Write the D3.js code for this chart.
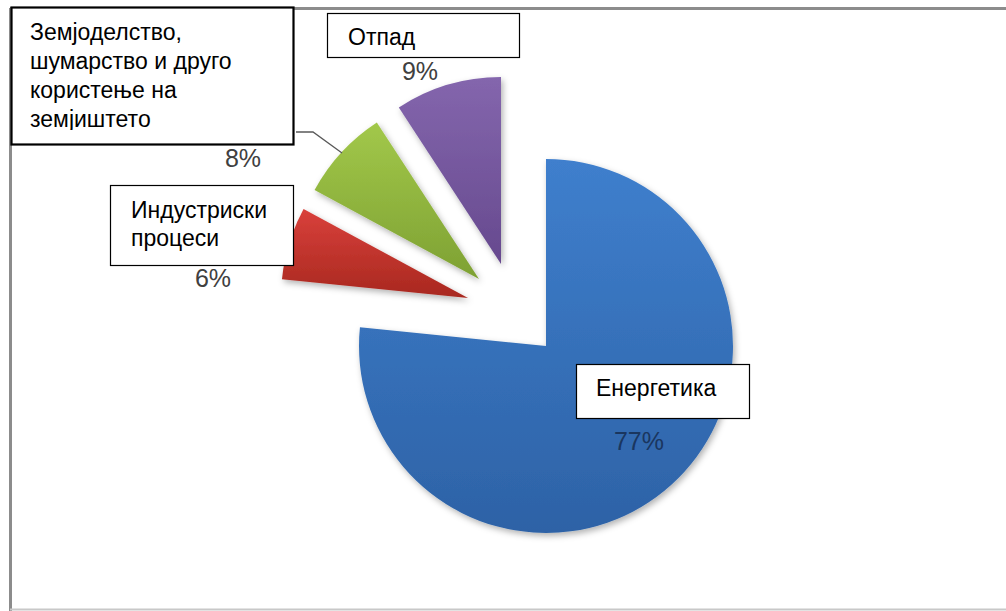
<!DOCTYPE html>
<html><head><meta charset="utf-8">
<script src="https://cdn.jsdelivr.net/npm/d3@7"></script>
<style>body{margin:0;background:#fff} svg{display:block}</style>
</head><body>
<svg id="c" width="1006" height="611"></svg>
<script>
// ---- data ----
const categories = ["Енергетика", "Индустриски процеси", "Земјоделство, шумарство и друго користење на земјиштето", "Отпад"];
const values = [76.6, 6.3, 7.9, 9.2];
const labelLines = [
  ["Енергетика"],
  ["Индустриски", "процеси"],
  ["Земјоделство,", "шумарство и друго", "користење на", "земјиштето"],
  ["Отпад"]
];

// ---- style / layout ----
const W = 1006, H = 611;
const center = [546, 346], radius = 187;
const gradColors = [["#3f7fcd", "#2d62a6"], ["#d9403b", "#a8281f"], ["#a2c84a", "#7ea133"], ["#8466ad", "#66498e"]];
const explode = [[0, 0], [-78, -48], [-67, -67], [-45, -82]];
const boxes = [
  {x: 576, y: 364, w: 173, h: 54, sw: 1.2, tx: 596, ty: [396]},
  {x: 110, y: 185, w: 183, h: 80, sw: 1.2, tx: 131, ty: [218, 246]},
  {x: 11, y: 7, w: 282, h: 137, sw: 2.2, tx: 30, ty: [40, 69, 98, 127], clipH: 123},
  {x: 327, y: 13, w: 192, h: 44, sw: 1.2, tx: 348, ty: [45]}
];
const pctPos = [[639, 450], [213, 287], [243, 167], [420, 80]];
const pctColor = ["#1a365f", "#404040", "#404040", "#404040"];

const svg = d3.select("#c");
const defs = svg.append("defs");
gradColors.forEach((c, i) => {
  const g = defs.append("linearGradient").attr("id", "g" + i).attr("x1", 0).attr("y1", 0).attr("x2", 0).attr("y2", 1);
  g.append("stop").attr("offset", "0%").attr("stop-color", c[0]);
  g.append("stop").attr("offset", "100%").attr("stop-color", c[1]);
});
const f = defs.append("filter").attr("id", "sh").attr("x", "-20%").attr("y", "-20%").attr("width", "140%").attr("height", "140%");
f.append("feDropShadow").attr("dx", 2).attr("dy", 3).attr("stdDeviation", 3).attr("flood-color", "#000").attr("flood-opacity", 0.3);
boxes.forEach((b, i) => {
  defs.append("clipPath").attr("id", "cl" + i).append("rect")
    .attr("x", b.x).attr("y", b.y).attr("width", b.w).attr("height", b.clipH || b.h);
});

// frame
svg.append("line").attr("x1", 10).attr("x2", W).attr("y1", 8.5).attr("y2", 8.5).attr("stroke", "#8c8c8c").attr("stroke-width", 3);
svg.append("line").attr("x1", 10.5).attr("x2", 10.5).attr("y1", 8).attr("y2", H).attr("stroke", "#8c8c8c").attr("stroke-width", 3);
svg.append("line").attr("x1", 10).attr("x2", W).attr("y1", 609.5).attr("y2", 609.5).attr("stroke", "#c8c8c8").attr("stroke-width", 2);

const pie = d3.pie().sort(null).value(d => d).startAngle(0).endAngle(2 * Math.PI);
const arcs = pie(values);
const arc = d3.arc().innerRadius(0).outerRadius(radius);

svg.append("g").attr("transform", `translate(${center})`)
  .selectAll("path").data(arcs).join("path")
  .attr("transform", (d, i) => `translate(${explode[i]})`)
  .attr("d", arc)
  .attr("fill", (d, i) => `url(#g${i})`)
  .attr("filter", "url(#sh)");

// leader line for agriculture label
svg.append("path").attr("d", "M296,132 L313,132 L342,153").attr("fill", "none").attr("stroke", "#595959").attr("stroke-width", 1.3);

// percentage labels
const total = d3.sum(values);
svg.append("g").selectAll("text").data(values).join("text")
  .attr("x", (d, i) => pctPos[i][0]).attr("y", (d, i) => pctPos[i][1])
  .attr("text-anchor", "middle")
  .attr("font-family", "Liberation Sans, Arial, sans-serif").attr("font-size", 25)
  .attr("fill", (d, i) => pctColor[i])
  .text(d => Math.round(d / total * 100) + "%");

// label boxes
const lg = svg.append("g").selectAll("g").data(categories).join("g");
lg.append("rect")
  .attr("x", (d, i) => boxes[i].x + 0.5).attr("y", (d, i) => boxes[i].y + 0.5)
  .attr("width", (d, i) => boxes[i].w).attr("height", (d, i) => boxes[i].h)
  .attr("fill", "#fff").attr("stroke", "#000").attr("stroke-width", (d, i) => boxes[i].sw);
lg.each(function (d, i) {
  const b = boxes[i];
  d3.select(this).append("g").attr("clip-path", `url(#cl${i})`)
    .selectAll("text").data(labelLines[i]).join("text")
    .attr("x", b.tx).attr("y", (t, j) => b.ty[j])
    .attr("font-family", "Liberation Sans, Arial, sans-serif").attr("font-size", 23)
    .attr("fill", "#000")
    .text(t => t);
});
</script>
</body></html>
